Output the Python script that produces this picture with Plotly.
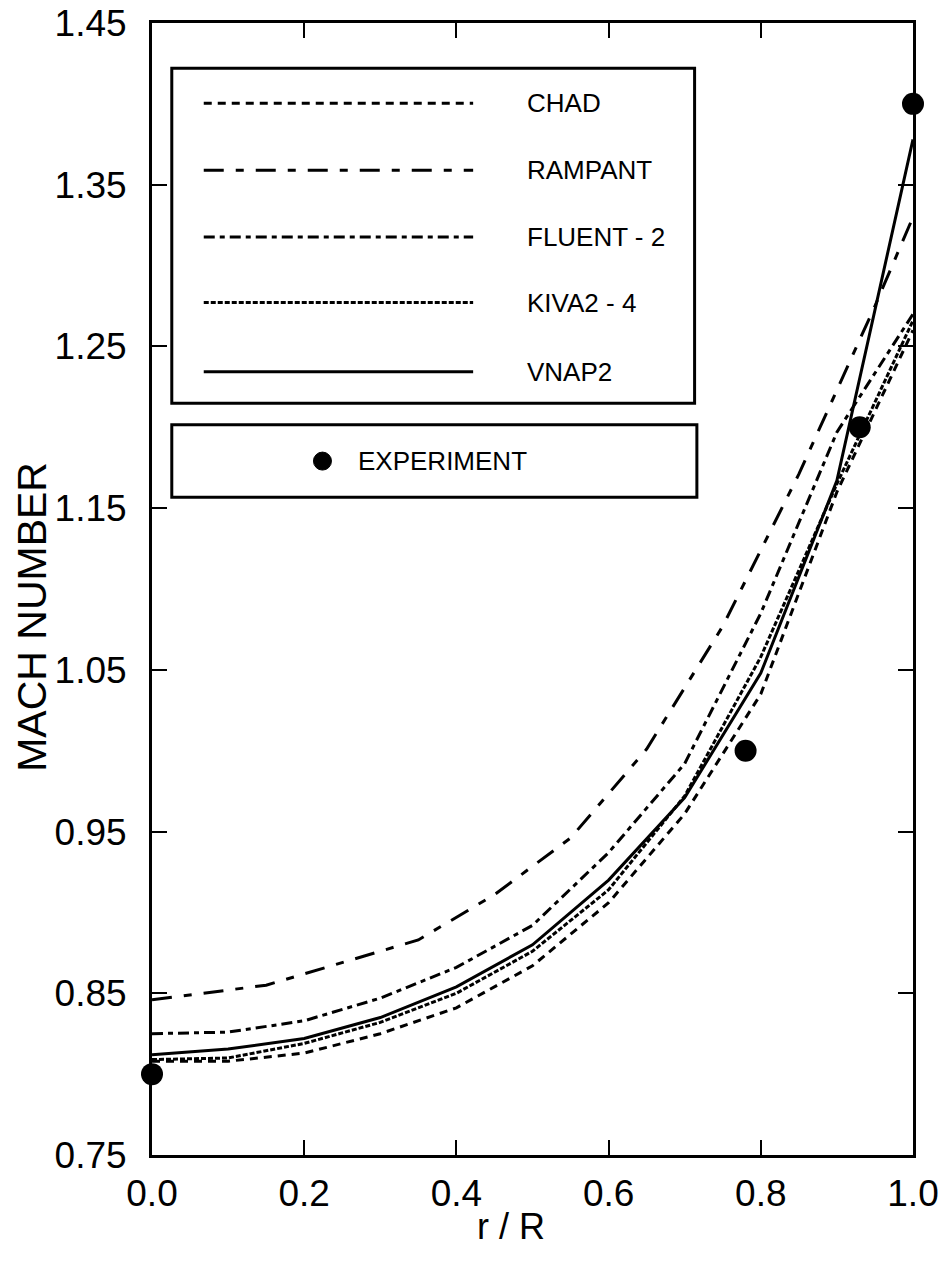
import plotly.graph_objects as go

# ---- data ----
x_grid = [0.0, 0.1, 0.2, 0.3, 0.4, 0.5, 0.6, 0.7, 0.8, 0.9, 1.0]
chad = [0.808, 0.808, 0.813, 0.825, 0.841, 0.867, 0.906, 0.961, 1.035, 1.160, 1.260]
kiva = [0.809, 0.810, 0.819, 0.832, 0.850, 0.876, 0.914, 0.972, 1.058, 1.165, 1.266]
vnap2 = [0.812, 0.8155, 0.822, 0.835, 0.854, 0.880, 0.920, 0.971, 1.048, 1.167, 1.378]
fluent = [0.825, 0.826, 0.833, 0.847, 0.866, 0.892, 0.937, 0.992, 1.085, 1.197, 1.270]
rampant_x = [0.0, 0.15, 0.35, 0.45, 0.55, 0.65, 0.75, 0.85, 0.95, 1.0]
rampant = [0.846, 0.855, 0.883, 0.911, 0.946, 1.001, 1.077, 1.171, 1.275, 1.330]
exp_x = [0.0, 0.78, 0.93, 1.0]
exp_y = [0.80, 1.00, 1.20, 1.40]

series_names = ["CHAD", "RAMPANT", "FLUENT - 2", "KIVA2 - 4", "VNAP2"]
x_ticks = [0.0, 0.2, 0.4, 0.6, 0.8, 1.0]
y_ticks = [0.75, 0.85, 0.95, 1.05, 1.15, 1.25, 1.35, 1.45]
x_title = "r / R"
y_title = "MACH NUMBER"

dashes = {
    "CHAD": "8px,6px",
    "RAMPANT": "20px,12px,8px,12px",
    "FLUENT - 2": "11px,5px,5px,5px",
    "KIVA2 - 4": "5px,2px",
    "VNAP2": "solid",
}

FONT = "Liberation Sans, Arial, Helvetica, sans-serif"
LW = 3

fig = go.Figure()
curve_data = [
    ("CHAD", x_grid, chad),
    ("RAMPANT", rampant_x, rampant),
    ("FLUENT - 2", x_grid, fluent),
    ("KIVA2 - 4", x_grid, kiva),
    ("VNAP2", x_grid, vnap2),
]
for name, xs, ys in curve_data:
    fig.add_trace(go.Scatter(x=xs, y=ys, mode="lines", name=name,
                             line=dict(color="black", width=LW, dash=dashes[name]),
                             cliponaxis=False))
fig.add_trace(go.Scatter(x=exp_x, y=exp_y, mode="markers", name="EXPERIMENT",
                         marker=dict(color="black", size=22),
                         cliponaxis=False))

# ---- legend boxes drawn manually ----
shapes = []
box1 = dict(x0=0.026, x1=0.713, y0=0.664, y1=0.960)
box2 = dict(x0=0.026, x1=0.716, y0=0.581, y1=0.645)
for b in (box1, box2):
    shapes.append(dict(type="rect", xref="paper", yref="paper", **b,
                       line=dict(color="black", width=3), fillcolor="white", layer="above"))
leg_y = [0.929, 0.870, 0.811, 0.753, 0.692]
annotations = []
for name, yy in zip(series_names, leg_y):
    shapes.append(dict(type="line", xref="paper", yref="paper",
                       x0=0.068, x1=0.422, y0=yy, y1=yy, layer="above",
                       line=dict(color="black", width=LW, dash=dashes[name])))
    annotations.append(dict(xref="paper", yref="paper", x=0.49, y=yy, text=name,
                            showarrow=False, xanchor="left", yanchor="middle",
                            font=dict(family=FONT, size=26, color="black")))
shapes.append(dict(type="circle", xref="paper", yref="paper", xsizemode="pixel",
                   ysizemode="pixel", xanchor=0.224, yanchor=0.613,
                   x0=-9, x1=9, y0=-9, y1=9, fillcolor="black",
                   line=dict(color="black", width=1), layer="above"))
annotations.append(dict(xref="paper", yref="paper", x=0.268, y=0.613, text="EXPERIMENT",
                        showarrow=False, xanchor="left", yanchor="middle",
                        font=dict(family=FONT, size=26, color="black")))

# axis titles
annotations.append(dict(xref="paper", yref="paper", x=-0.157, y=0.475, text=y_title,
                        textangle=-90, showarrow=False, xanchor="center", yanchor="middle",
                        font=dict(family=FONT, size=41, color="black")))
annotations.append(dict(xref="paper", yref="paper", x=0.472, y=-0.063, text=x_title,
                        showarrow=False, xanchor="center", yanchor="middle",
                        font=dict(family=FONT, size=36, color="black")))

fig.update_layout(
    width=941, height=1261,
    margin=dict(l=152, r=28, t=23, b=106, autoexpand=False),
    paper_bgcolor="white", plot_bgcolor="white",
    showlegend=False,
    shapes=shapes, annotations=annotations,
    font=dict(family=FONT, color="black"),
)
fig.update_xaxes(range=[0, 1], tickvals=x_ticks, tickformat=".1f", automargin=False,
                 ticks="inside", ticklen=15, tickwidth=2, tickcolor="black",
                 showline=True, linecolor="black", linewidth=3, mirror="ticks",
                 showgrid=False, zeroline=False, ticklabelstandoff=4,
                 ticklabeloverflow="allow",
                 tickfont=dict(family=FONT, size=37))
fig.update_yaxes(range=[0.75, 1.45], tickvals=y_ticks, tickformat=".2f", automargin=False,
                 ticks="inside", ticklen=15, tickwidth=2, tickcolor="black",
                 showline=True, linecolor="black", linewidth=3, mirror="ticks",
                 showgrid=False, zeroline=False, ticklabelstandoff=15,
                 ticklabeloverflow="allow",
                 tickfont=dict(family=FONT, size=37))

fig.write_html("out.html",
               config={"displayModeBar": False},
               post_script="document.body.style.margin='0';document.body.style.overflow='hidden';")
